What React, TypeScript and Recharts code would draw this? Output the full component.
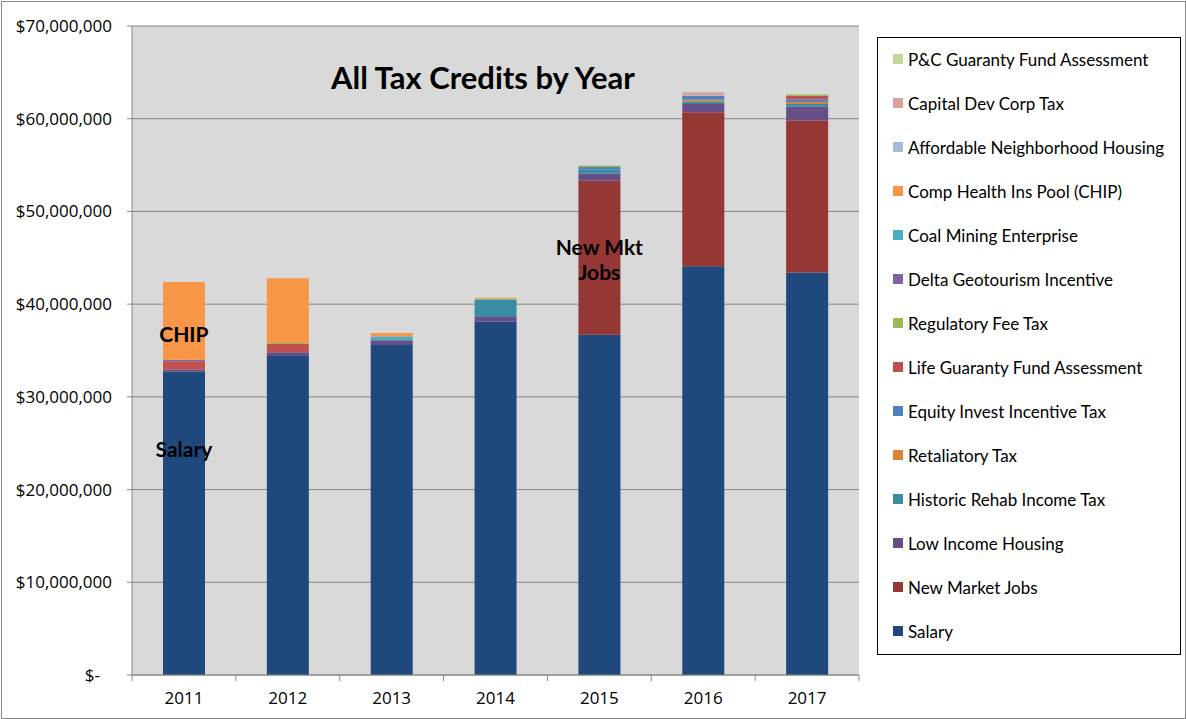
import React from 'react';
import { BarChart, Bar, XAxis, YAxis, CartesianGrid, Legend, ReferenceDot } from 'recharts';

const years = ['2011', '2012', '2013', '2014', '2015', '2016', '2017'];

const salary = [32700000, 34400000, 35600000, 38100000, 36700000, 44100000, 43400000];
const newMarketJobs = [0, 0, 0, 0, 16600000, 16600000, 16400000];
const lowIncomeHousing = [250000, 400000, 500000, 500000, 800000, 900000, 1500000];
const historicRehab = [0, 0, 0, 1900000, 400000, 250000, 300000];
const retaliatoryTax = [0, 0, 0, 0, 0, 200000, 200000];
const equityInvest = [0, 0, 0, 0, 300000, 400000, 300000];
const lifeGuaranty = [900000, 900000, 0, 0, 0, 0, 350000];
const regulatoryFee = [0, 100000, 0, 100000, 150000, 50000, 150000];
const deltaGeotourism = [150000, 0, 0, 0, 0, 0, 0];
const coalMining = [0, 0, 400000, 0, 0, 0, 0];
const chip = [8400000, 7000000, 400000, 100000, 0, 0, 0];
const affordableHousing = [0, 0, 0, 0, 0, 50000, 0];
const capitalDev = [0, 0, 0, 0, 0, 300000, 0];
const pcGuaranty = [0, 0, 0, 0, 0, 0, 0];

const yTicks = [0, 10000000, 20000000, 30000000, 40000000, 50000000, 60000000, 70000000];

const series = [
  { key: 'salary', name: 'Salary', values: salary, color: '#1F497D' },
  { key: 'nmj', name: 'New Market Jobs', values: newMarketJobs, color: '#953735' },
  { key: 'lih', name: 'Low Income Housing', values: lowIncomeHousing, color: '#664F86' },
  { key: 'hist', name: 'Historic Rehab Income Tax', values: historicRehab, color: '#3A8CA3' },
  { key: 'ret', name: 'Retaliatory Tax', values: retaliatoryTax, color: '#DB8236' },
  { key: 'eq', name: 'Equity Invest Incentive Tax', values: equityInvest, color: '#4F81BD' },
  { key: 'life', name: 'Life Guaranty Fund Assessment', values: lifeGuaranty, color: '#C0504D' },
  { key: 'reg', name: 'Regulatory Fee Tax', values: regulatoryFee, color: '#9BBB59' },
  { key: 'delta', name: 'Delta Geotourism Incentive', values: deltaGeotourism, color: '#8064A2' },
  { key: 'coal', name: 'Coal Mining Enterprise', values: coalMining, color: '#4BACC6' },
  { key: 'chip', name: 'Comp Health Ins Pool (CHIP)', values: chip, color: '#F79646' },
  { key: 'aff', name: 'Affordable Neighborhood Housing', values: affordableHousing, color: '#A7B9DA' },
  { key: 'cap', name: 'Capital Dev Corp Tax', values: capitalDev, color: '#DDA0A0' },
  { key: 'pc', name: 'P&C Guaranty Fund Assessment', values: pcGuaranty, color: '#C3D69B' },
];

const data = years.map((year, i) => {
  const row: Record<string, any> = { year };
  series.forEach((s) => {
    row[s.key] = s.values[i];
  });
  return row;
});

const FONT = 'Lato, "Open Sans", sans-serif';
const NUM_FONT = '"Open Sans", sans-serif';
const CHART_W = 1186;
const CHART_H = 719;
const MARGIN = { top: 26, right: 327, bottom: 14, left: 12 };
const Y_W = 120;
const PLOT_W = CHART_W - MARGIN.left - MARGIN.right - Y_W;
const BAND = PLOT_W / years.length;
const AXIS_COLOR = '#868686';

const fmtMoney = (v: number) => (v === 0 ? '$-' : '$' + v.toLocaleString('en-US'));

const YTick = (props: any) => {
  const { x, y, payload } = props;
  const isZero = payload.value === 0;
  return (
    <text
      x={isZero ? x - 27 : x - 15}
      y={y}
      dy={6}
      textAnchor="end"
      fontFamily={NUM_FONT}
      fontSize={17}
      fill="#000"
    >
      {fmtMoney(payload.value)}
    </text>
  );
};

const XTick = (props: any) => {
  const { x, y, payload, index } = props;
  return (
    <g>
      <line x1={x - BAND / 2} x2={x - BAND / 2} y1={y} y2={y + 6} stroke={AXIS_COLOR} />
      {index === years.length - 1 && (
        <line x1={x + BAND / 2} x2={x + BAND / 2} y1={y} y2={y + 6} stroke={AXIS_COLOR} />
      )}
      <text x={x} y={y + 29} textAnchor="middle" fontFamily={NUM_FONT} fontSize={17} fill="#000">
        {payload.value}
      </text>
    </g>
  );
};

const LegendBox = () => (
  <div
    style={{
      width: 304,
      height: 618,
      boxSizing: 'border-box',
      border: '1px solid #000',
      background: '#fff',
      fontFamily: FONT,
      fontSize: 17,
      color: '#000',
      paddingLeft: 15,
      overflow: 'hidden',
    }}
  >
    <div style={{ marginTop: -1 }}>
      {[...series].reverse().map((s) => (
        <div key={s.key} style={{ height: 44, display: 'flex', alignItems: 'center', whiteSpace: 'nowrap' }}>
          <span
            style={{ display: 'inline-block', width: 10, height: 10, background: s.color, marginRight: 5 }}
          />
          <span>{s.name}</span>
        </div>
      ))}
    </div>
  </div>
);

const makeLabel = (lines: string[], size: number) => (props: any) => {
  const { cx, cy } = props;
  return (
    <text
      x={cx}
      y={cy}
      textAnchor="middle"
      fontFamily={FONT}
      fontWeight="bold"
      fontSize={size}
      fill="#000"
    >
      {lines.map((l, i) => (
        <tspan key={i} x={cx} dy={i === 0 ? 7 - ((lines.length - 1) * 25) / 2 : 25}>
          {l}
        </tspan>
      ))}
    </text>
  );
};

export default function App() {
  return (
    <div
      style={{
        position: 'absolute',
        left: 0,
        top: 0,
        width: CHART_W,
        height: CHART_H,
        background: '#fff',
      }}
    >
      <div
        style={{
          position: 'absolute',
          left: 1,
          top: 1,
          width: CHART_W - 3,
          height: CHART_H - 3,
          border: '1px solid #888',
          pointerEvents: 'none',
        }}
      />
      <BarChart
        width={CHART_W}
        height={CHART_H}
        data={data}
        margin={MARGIN}
        barSize={42}
      >
        <CartesianGrid
          horizontal
          vertical={false}
          stroke={AXIS_COLOR}
          fill="#D9D9D9"
          fillOpacity={1}
        />
        <XAxis
          dataKey="year"
          height={30}
          axisLine={{ stroke: AXIS_COLOR }}
          tickLine={false}
          tickSize={0}
          tickMargin={0}
          tick={<XTick />}
          interval={0}
        />
        <YAxis
          width={Y_W}
          domain={[0, 70000000]}
          ticks={yTicks}
          interval={0}
          axisLine={{ stroke: AXIS_COLOR }}
          tickLine={{ stroke: AXIS_COLOR }}
          tickSize={5}
          tickMargin={0}
          tick={<YTick />}
        />
        {series.map((s) => (
          <Bar
            key={s.key}
            dataKey={s.key}
            name={s.name}
            stackId="a"
            fill={s.color}
            isAnimationActive={false}
          />
        ))}
        <ReferenceDot x="2011" y={36700000} r={0} shape={makeLabel(['CHIP'], 21)} />
        <ReferenceDot x="2011" y={24300000} r={0} shape={makeLabel(['Salary'], 21)} />
        <ReferenceDot x="2015" y={44700000} r={0} shape={makeLabel(['New Mkt', 'Jobs'], 21)} />
        <Legend
          layout="vertical"
          align="center"
          verticalAlign="middle"
          wrapperStyle={{ left: 877, top: 37, width: 304, height: 618 }}
          content={<LegendBox />}
        />
      </BarChart>
      <div
        style={{
          position: 'absolute',
          left: 283,
          top: 57,
          width: 400,
          textAlign: 'center',
          fontFamily: FONT,
          fontWeight: 'bold',
          fontSize: 31,
          color: '#000',
          lineHeight: '40px',
        }}
      >
        All Tax Credits by Year
      </div>
    </div>
  );
}
